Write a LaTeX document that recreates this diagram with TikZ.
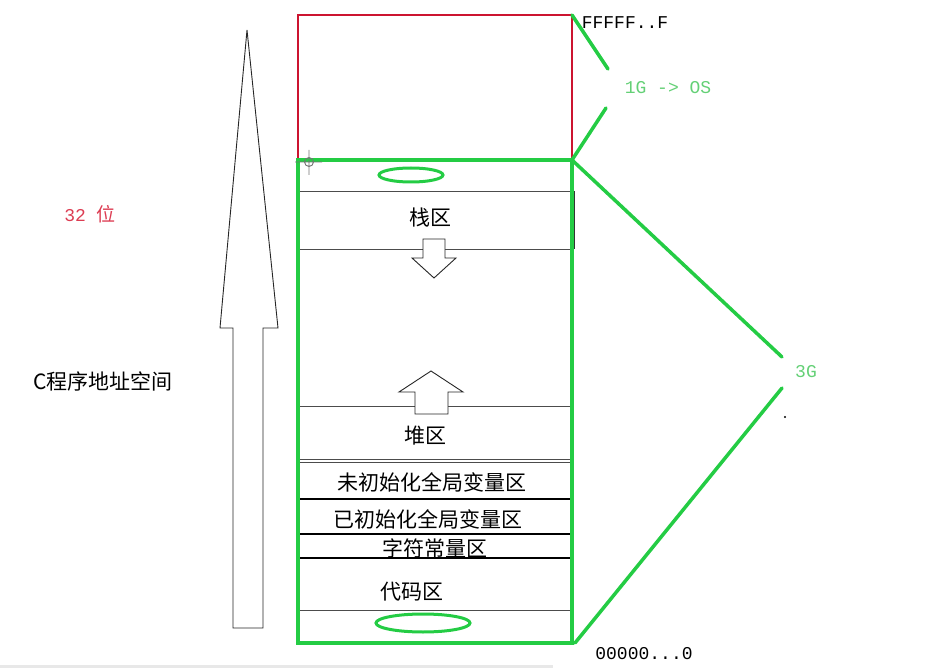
\documentclass[tikz,border=0pt]{standalone}
\usepackage{fontspec}
\setmainfont{Noto Sans CJK SC}
\setmonofont{Liberation Mono}
\usetikzlibrary{positioning}
\definecolor{rahmengruen}{RGB}{36,204,68}
\definecolor{textgruen}{RGB}{100,208,118}
\definecolor{osrot}{RGB}{204,20,48}
\definecolor{bitrot}{RGB}{220,60,82}

\begin{document}
\begin{tikzpicture}[x=1pt,y=-1pt]
			\tikzstyle{every node}=[font=\fontsize{21}{24}\selectfont, inner sep=0pt]
			\tikzstyle{latein}=[font=\fontsize{18}{22}\selectfont\ttfamily]
			\tikzstyle{klammer}=[rahmengruen, line width=3.5pt, line cap=round]
			\tikzstyle{umriss}=[black!85, line width=0.9pt, fill=white]
			\useasboundingbox (0,0) rectangle (942,668);
			\fill[gray!18] (0,665) rectangle (553,668);
			
			%grosser Pfeil links
			\draw[umriss] (247,30) -- (278,328) -- (263,328) -- (263,628) -- (233,628) -- (233,328) -- (220,328) -- cycle;
			\node (bits) at (90,214) {\textcolor{bitrot}{\ttfamily\fontsize{18}{22}\selectfont 32 }\textcolor{bitrot}{\fontsize{19}{22}\selectfont 位}};
			\node (cspace) at (103,381) {C程序地址空间};
			
			%Bereiche
			\foreach \y in {191,249,406,459,462,610}
				\draw[black!70, line width=0.9pt] (300,\y) -- (570,\y);
			\foreach \y in {499,534,558}
				\draw[black, line width=1.3pt] (300,\y) -- (570,\y);
			\draw[black!80, line width=1.2pt] (574,191) -- (574,249);
			
			%Stack und Heap Pfeile
			\draw[umriss] (423,239) -- (445,239) -- (445,258) -- (456,258) -- (434,278) -- (412,258) -- (423,258) -- cycle;
			\draw[umriss] (431,371) -- (463,392) -- (448,392) -- (448,414) -- (415,414) -- (415,392) -- (399,392) -- cycle;
			
			\node (stack) at (430,218) {栈区};
			\node (heap) at (425,436) {堆区};
			\node (bss) at (432,482) {未初始化全局变量区};
			\node (data) at (428,519) {已初始化全局变量区};
			\node (rodata) at (435,548) {字符常量区};
			\node (text) at (412,592) {代码区};
			
			%Rahmen
			\draw[osrot, line width=2.5pt] (298,160) -- (298,15) -- (572,15) -- (572,160);
			\draw[rahmengruen, line width=3.5pt] (298,160) rectangle (572,643);
			\draw[rahmengruen, line width=3pt] (411,175) ellipse (32pt and 7pt)
			(423,623) ellipse (47pt and 9pt);
			
			%Cursor
			\draw[black!55, line width=0.9pt] (309,162) circle (4.5pt) (295,162) -- (322,162) (309,150) -- (309,175);
			
			%Klammern
			\coordinate (ffff) at (572,15);
			\coordinate (grenze) at (572,160);
			\coordinate (null) at (575,643);
			\coordinate (osA) at (608,69);
			\coordinate (osB) at (606,108);
			\coordinate (gA) at (782,357);
			\coordinate (gB) at (782,388);
			\draw[klammer] (ffff) -- (osA);
			\draw[klammer] (osB) -- (grenze);
			\draw[klammer] (grenze) -- (gA);
			\draw[klammer] (gB) -- (null);
			
			\node[latein, text=textgruen] (os) at (668,88) {1G -> OS};
			\node[latein, text=textgruen] (drei) at (806,372) {3G};
			\node[latein] (oben) at (625,23) {FFFFF..F};
			\node[latein] (unten) at (644,654) {00000...0};
			\fill (785,417) circle (1.2pt);
			
\end{tikzpicture}
\end{document}
